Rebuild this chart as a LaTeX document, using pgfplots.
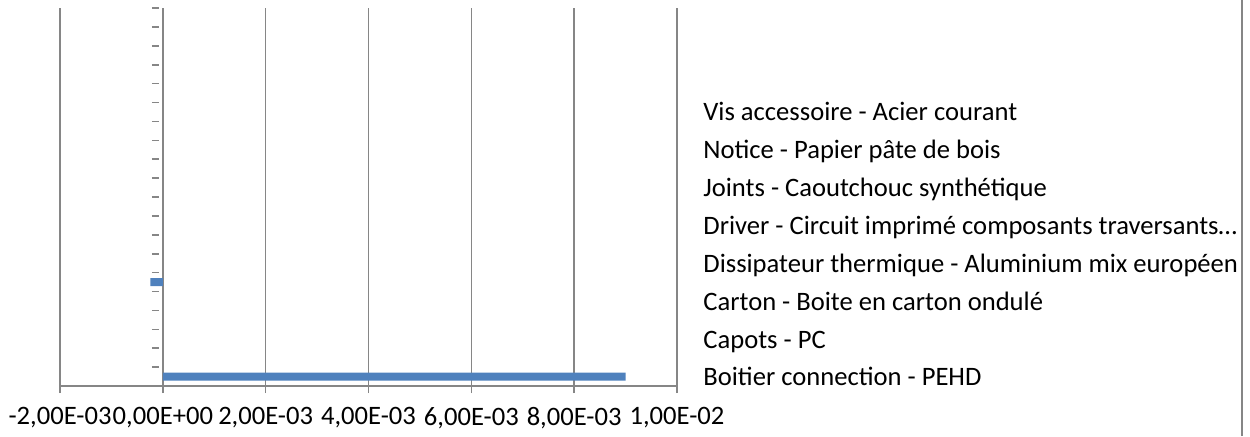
\documentclass[border=0pt]{standalone}
\usepackage{fontspec}
\setmainfont{Carlito}
\usepackage{pgfplots}
\pgfplotsset{compat=1.18}
\definecolor{barblue}{HTML}{4F81BD}
\definecolor{axgray}{HTML}{868686}
\begin{document}
\fontsize{13.3pt}{15pt}\selectfont
\begin{tikzpicture}[x=0.5pt,y=0.5pt]
\useasboundingbox (0,0) rectangle (1250,436);
\begin{axis}[
  at={(30pt,25pt)}, anchor=south west,
  scale only axis, width=308.5pt, height=189pt,
  xmin=-0.002, xmax=0.01, ymin=0.5, ymax=20.5,
  axis x line=bottom, axis y line=center,
  axis line style={-, axgray, line width=0.8pt},
  xtick={-0.002,0,0.002,0.004,0.006,0.008,0.01},
  xticklabels={{-2,00E-03},{0,00E+00},{2,00E-03},{4,00E-03},{6,00E-03},{8,00E-03},{1,00E-02}},
  scaled ticks=false,
  xmajorgrids, major grid style={axgray, line width=0.8pt},
  xtick align=outside, major tick length=3.5pt,
  x tick style={axgray, line width=0.8pt},
  ytick={0.5,1.5,...,20.5}, yticklabels={},
  y tick style={axgray, line width=0.8pt, xshift=-2pt},
  ytick align=center,
  tick label style={font=\fontsize{13.3pt}{15pt}\selectfont, text=black},
  xticklabel style={yshift=-2.5pt, inner xsep=0pt},
  xbar, bar width=4pt,
  clip=false,
]
\addplot[fill=barblue, draw=none] coordinates {(0.009,1) (-0.00024,6)};
\end{axis}
\foreach \t [count=\i from 0] in {Vis accessoire - Acier courant,
  Notice - Papier pâte de bois,
  Joints - Caoutchouc synthétique,
  Driver - Circuit imprimé composants traversants…,
  Dissipateur thermique - Aluminium mix européen,
  Carton - Boite en carton ondulé,
  Capots - PC,
  Boitier connection - PEHD}
  \node[anchor=base west, inner sep=0pt] at (703,{436-(112+37.9*\i+8.6)}) {\t};
\draw[axgray, line width=0.8pt] (1242,0) -- (1242,436);
\end{tikzpicture}
\end{document}
